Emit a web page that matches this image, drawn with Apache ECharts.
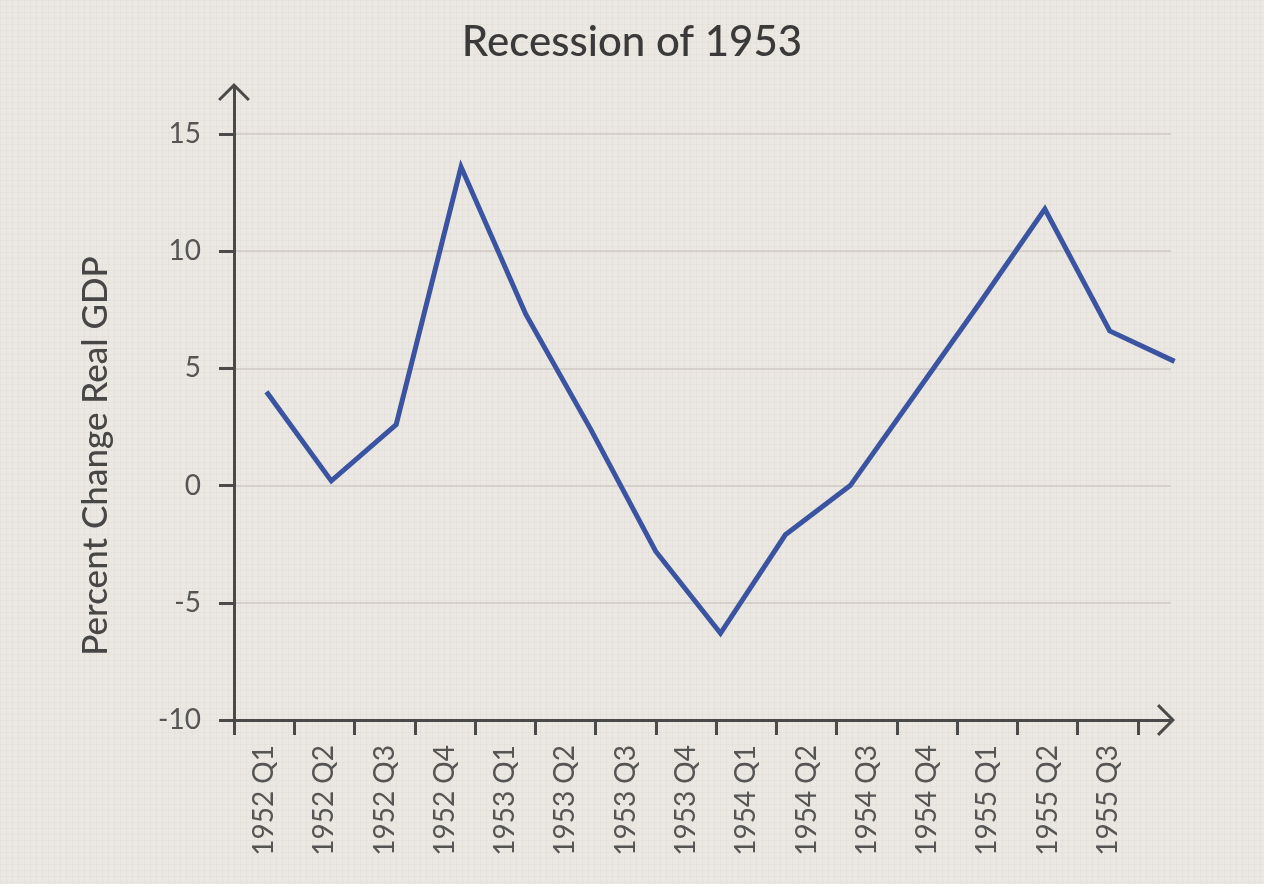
<!DOCTYPE html>
<html>
<head>
<meta charset="utf-8">
<script src="https://cdn.jsdelivr.net/npm/echarts@6/dist/echarts.min.js"></script>
<style>
html, body { margin: 0; padding: 0; width: 1264px; height: 884px; overflow: hidden;
  background-color: #ebe8e3;
  background-image:
    linear-gradient(rgba(120,110,90,0.045) 1px, transparent 1px),
    linear-gradient(90deg, rgba(120,110,90,0.045) 1px, transparent 1px);
  background-size: 6px 6px; }
#chart { width: 1264px; height: 884px; }
</style>
</head>
<body>
<div id="chart"></div>
<script>
// ---- data ----
const chartTitle = 'Recession of 1953';
const yAxisName = 'Percent Change Real GDP';
const quarters = ['1952 Q1', '1952 Q2', '1952 Q3', '1952 Q4',
                  '1953 Q1', '1953 Q2', '1953 Q3', '1953 Q4',
                  '1954 Q1', '1954 Q2', '1954 Q3', '1954 Q4',
                  '1955 Q1', '1955 Q2', '1955 Q3'];
const gdpChange = [4.0, 0.2, 2.6, 13.6, 7.3, 2.4, -2.8, -6.3, -2.1, 0.0, 3.9, 7.8, 11.8, 6.6, 5.3];
const yMin = -10;
const yMax = 15;
const yStep = 5;
const yArrowMax = 17;

// ---- layout / style ----
const axisColor = '#4a4a4a';
const labelColor = '#555555';
const font = 'Lato, "Open Sans", sans-serif';
const plotLeft = 234, plotBottomPx = 720, plotTopPx = 134;
const pxPerUnit = (plotBottomPx - plotTopPx) / (yMax - yMin);
const frameTop = plotBottomPx - (yArrowMax - yMin) * pxPerUnit;
const bottomGap = 884 - plotBottomPx;
const chevron = 'path://M16,0 L32,16 L29.9,18.1 L16,4.2 L2.1,18.1 L0,16 Z';

const arrowLine = {
  show: true,
  onZero: false,
  symbol: ['none', chevron],
  symbolSize: [32, 18],
  symbolOffset: [0, -5],
  lineStyle: { color: axisColor, width: 3 }
};

const chart = echarts.init(document.getElementById('chart'), null, { renderer: 'canvas' });
chart.setOption({
  animation: false,
  backgroundColor: 'transparent',
  title: {
    text: chartTitle,
    left: 'center',
    top: 16,
    textStyle: { fontFamily: font, fontSize: 42, fontWeight: 500, color: '#3a3a3a' }
  },
  grid: [
    // frame: axis lines with arrows + split lines
    { left: plotLeft, top: frameTop, width: 937, bottom: bottomGap, containLabel: false },
    // ticks and labels
    { left: plotLeft, top: plotTopPx, width: 904, bottom: bottomGap, containLabel: false },
    // data line
    { left: plotLeft, top: plotTopPx, width: 973, bottom: bottomGap, containLabel: false }
  ],
  xAxis: [
    { gridIndex: 0, type: 'value', min: 0, max: 1,
      axisLine: arrowLine, axisTick: { show: false }, axisLabel: { show: false }, splitLine: { show: false } },
    { gridIndex: 1, type: 'category', data: quarters, boundaryGap: true,
      axisLine: { show: false, onZero: false },
      axisTick: { show: true, interval: 0, length: 15, lineStyle: { color: axisColor, width: 3 } },
      axisLabel: { interval: 0, rotate: 90, margin: 25, fontSize: 28, color: labelColor, fontFamily: font },
      splitLine: { show: false } },
    { gridIndex: 2, type: 'category', data: quarters, boundaryGap: true, show: false,
      axisLine: { onZero: false } }
  ],
  yAxis: [
    { gridIndex: 0, type: 'value', min: yMin, max: yArrowMax, interval: yStep,
      axisLine: arrowLine, axisTick: { show: false }, axisLabel: { show: false },
      splitLine: { show: true, showMinLine: false, showMaxLine: false,
        lineStyle: { color: '#d5d1ca', width: 2 } } },
    { gridIndex: 1, type: 'value', min: yMin, max: yMax, interval: yStep,
      axisLine: { show: false, onZero: false },
      axisTick: { show: true, length: 15, lineStyle: { color: axisColor, width: 3 } },
      axisLabel: { margin: 33, fontSize: 28, color: labelColor, fontFamily: font },
      splitLine: { show: false },
      name: yAxisName, nameLocation: 'middle', nameGap: 121,
      nameTextStyle: { fontSize: 35, fontWeight: 500, color: '#474747', fontFamily: font, padding: [0, 58, 0, 0] } },
    { gridIndex: 2, type: 'value', min: yMin, max: yMax, show: false }
  ],
  series: [{
    type: 'line',
    xAxisIndex: 2,
    yAxisIndex: 2,
    data: gdpChange,
    showSymbol: false,
    symbol: 'none',
    clip: false,
    lineStyle: { color: '#3b54a2', width: 5, join: 'miter', cap: 'butt' }
  }]
});
</script>
</body>
</html>
